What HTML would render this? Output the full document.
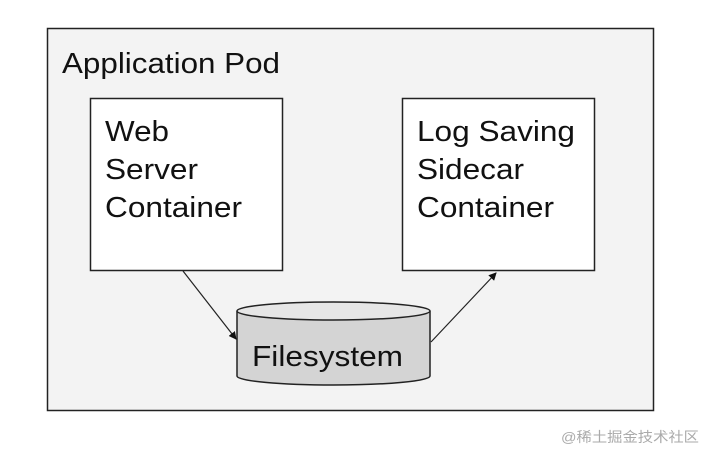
<!DOCTYPE html>
<html><head><style>
html,body{margin:0;padding:0;background:#fff;width:710px;height:460px;overflow:hidden}
svg text{font-family:"Liberation Sans",Arial,sans-serif;fill:#111}
</style></head><body>
<svg width="710" height="460" xmlns="http://www.w3.org/2000/svg">
<defs><marker id="a" markerWidth="8" markerHeight="8" refX="7" refY="4" orient="auto" markerUnits="userSpaceOnUse"><path d="M0,0 L8,4 L0,8 z" fill="#111"/></marker></defs>
<rect x="47.5" y="28.5" width="606" height="382" fill="#f3f3f3" stroke="#222" stroke-width="1.5"/>
<text x="62" y="73" font-size="29" textLength="218" lengthAdjust="spacingAndGlyphs">Application Pod</text>
<rect x="90.5" y="98.5" width="192" height="172" fill="#fff" stroke="#222" stroke-width="1.5"/>
<text x="105" y="141" font-size="29" textLength="64" lengthAdjust="spacingAndGlyphs">Web</text>
<text x="105" y="179" font-size="29" textLength="93" lengthAdjust="spacingAndGlyphs">Server</text>
<text x="105" y="217" font-size="29" textLength="137" lengthAdjust="spacingAndGlyphs">Container</text>
<rect x="402.5" y="98.5" width="192" height="172" fill="#fff" stroke="#222" stroke-width="1.5"/>
<text x="417" y="141" font-size="29" textLength="158" lengthAdjust="spacingAndGlyphs">Log Saving</text>
<text x="417" y="179" font-size="29" textLength="107" lengthAdjust="spacingAndGlyphs">Sidecar</text>
<text x="417" y="217" font-size="29" textLength="137" lengthAdjust="spacingAndGlyphs">Container</text>
<path d="M237,311 L237,376 A96.5,9 0 0 0 430,376 L430,311" fill="#d4d4d4" stroke="#222" stroke-width="1.5"/>
<ellipse cx="333.5" cy="311" rx="96.5" ry="9" fill="#e6e6e6" stroke="#222" stroke-width="1.5"/>
<text x="252" y="366" font-size="29" textLength="151" lengthAdjust="spacingAndGlyphs">Filesystem</text>
<line x1="183" y1="271" x2="236" y2="339" stroke="#222" stroke-width="1.2" marker-end="url(#a)"/>
<line x1="431" y1="342" x2="496" y2="273" stroke="#222" stroke-width="1.2" marker-end="url(#a)"/>
<text x="561" y="442" font-size="14" textLength="138" lengthAdjust="spacingAndGlyphs" style="font-family:'Liberation Sans','Noto Sans CJK SC',sans-serif;fill:#aaa">@稀土掘金技术社区</text>
</svg>
</body></html>
